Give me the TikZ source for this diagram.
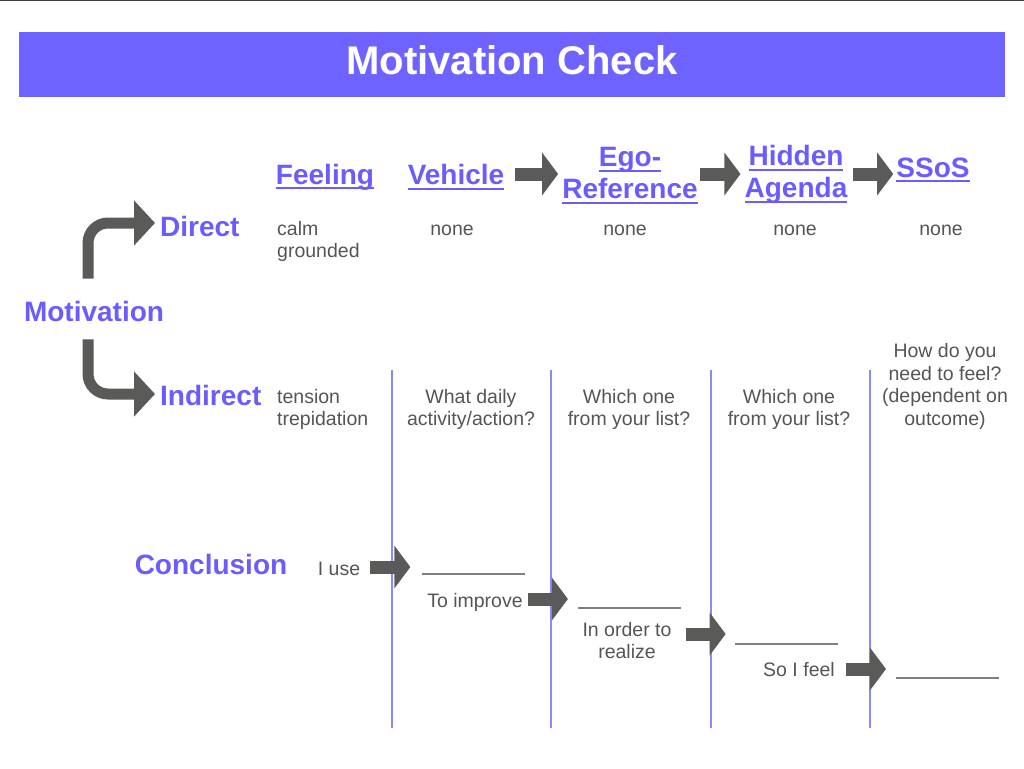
\documentclass[tikz,border=0pt]{standalone}
\usepackage{fontspec}
\setmainfont{Liberation Sans}
\usetikzlibrary{arrows.meta,positioning}

\definecolor{banner}{HTML}{6F63FF}
\definecolor{headblue}{HTML}{6A5CFF}
\definecolor{txtgray}{HTML}{555555}
\definecolor{arrowgray}{HTML}{5A5B58}
\definecolor{lanecol}{HTML}{8C86FF}

% underlined header word
\newcommand\hdline[1]{\setbox0\hbox{#1}\rlap{\rule[-5pt]{\wd0}{2pt}}\box0}

\begin{document}
\begin{tikzpicture}[x=1pt,y=-1pt,
	head/.style = {font=\fontsize{28}{32}\selectfont\bfseries, text=headblue, inner sep=0pt, align=center},
	body/.style = {font=\fontsize{19.5}{22.5}\selectfont, text=txtgray, inner sep=0pt, align=center},
	fat/.style = {draw=arrowgray, line width=13pt, -{Triangle[length=16pt,width=42pt]}},
	branch/.style = {draw=arrowgray, line width=11pt, rounded corners=20pt, -{Triangle[length=21pt,width=44pt]}},
	lane/.style = {draw=lanecol, line width=1.3pt},
	blank/.style = {draw=gray, line width=1.2pt}
	]

	\useasboundingbox (0,0) rectangle (1024,768);
	\draw[line width=1.5pt, draw=black!75] (0,0.75) -- (1024,0.75);

	% title banner
	\fill[banner] (19,32) rectangle (1005,97);
	\node[font=\fontsize{40}{44}\selectfont\bfseries, text=white, inner sep=0pt] (title) at (512,60) {Motivation Check};

	% column heads
	\node[head] (feeling) at (325,177) {\hdline{Feeling}};
	\node[head] (vehicle) at (456,177) {\hdline{Vehicle}};
	\node[head] (ego) at (630,175.5) {\hdline{Ego-}\\\hdline{Reference}};
	\node[head] (hidden) at (796,174.5) {\hdline{Hidden}\\\hdline{Agenda}};
	\node[head] (ssos) at (933,170) {\hdline{SSoS}};

	\draw[fat, shorten <=11pt, shorten >=4pt] (vehicle.east |- 0,174) -- (ego.west |- 0,174);
	\draw[fat, shorten <=2pt, shorten >=4pt] (ego.east |- 0,174) -- (hidden.west |- 0,174);
	\draw[fat, shorten <=5pt, shorten >=3pt] (hidden.east |- 0,174) -- (ssos.west |- 0,174);

	% motivation branches
	\node[head] (motivation) at (94,311) {Motivation};
	\node[head, anchor=west] (direct) at (160,226) {Direct};
	\node[head, anchor=west] (indirect) at (160,395) {Indirect};

	\draw[branch, shorten >=5pt] ([shift={(-6,-22)}]motivation.north) |- ([yshift=3]direct.west);
	\draw[branch, shorten >=5pt] ([shift={(-6,18)}]motivation.south) |- ([yshift=1]indirect.west);

	% direct row
	\node[body, anchor=west, align=left] (calm) at (277,241.5) {calm\\grounded};
	\node[body] (none1) at (452,230) {none};
	\node[body] (none2) at (625,230) {none};
	\node[body] (none3) at (795,230) {none};
	\node[body] (none4) at (941,230) {none};

	% indirect row
	\node[body, anchor=west, align=left] (tension) at (277,409.5) {tension\\trepidation};
	\node[body] (daily) at (471,409.5) {What daily\\activity/action?};
	\node[body] (which1) at (629,409.5) {Which one\\from your list?};
	\node[body] (which2) at (789,409.5) {Which one\\from your list?};
	\node[body] (howfeel) at (945,386.5) {How do you\\need to feel?\\(dependent on\\outcome)};

	\foreach \x in {392,551,711,870}
		\draw[lane] (\x,370) -- (\x,728);

	% conclusion
	\node[head] (conclusion) at (211,564) {Conclusion};

	\node[body] (iuse) at (339,568.5) {I use};
	\node[body] (improve) at (475,602.5) {To improve};
	\node[body] (order) at (627,640.5) {In order to\\realize};
	\node[body] (sofeel) at (799,669.5) {So I feel};

	\draw[fat] ([shift={(10,-1.5)}]iuse.east) -- ++(40,0);
	\draw[fat] ([shift={(5,-3.5)}]improve.east) -- ++(40,0);
	\draw[fat] ([shift={(14,-6.5)}]order.east) -- ++(40,0);
	\draw[fat] ([shift={(11,-0.5)}]sofeel.east) -- ++(40,0);

	\coordinate (b1) at (422,574);
	\coordinate (b2) at (578,608);
	\coordinate (b3) at (735,644);
	\coordinate (b4) at (896,678);
	\foreach \b in {b1,b2,b3,b4}
		\draw[blank] (\b) -- ++(103,0);

\end{tikzpicture}
\end{document}
